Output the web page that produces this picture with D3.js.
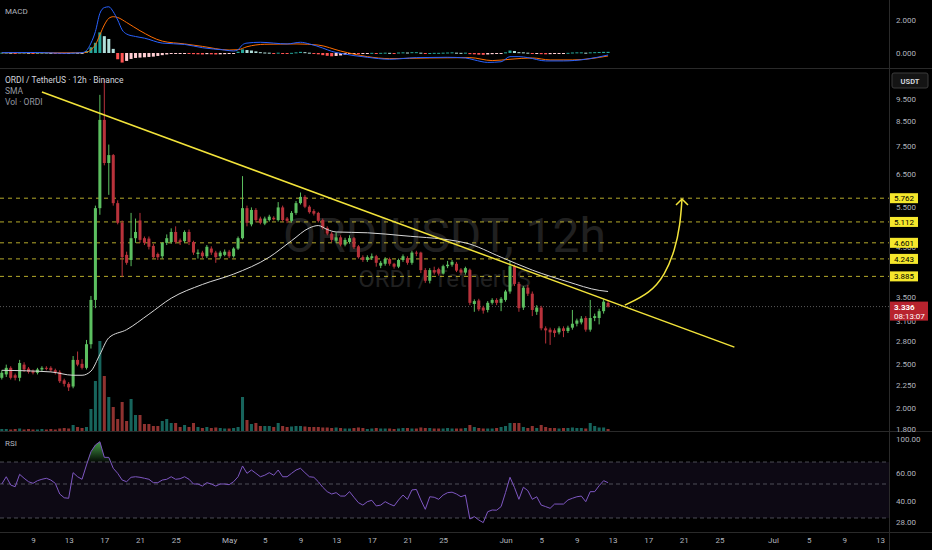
<!DOCTYPE html>
<html>
<head>
<meta charset="utf-8">
<script src="https://cdn.jsdelivr.net/npm/d3@7"></script>
<style>
  body { margin: 0; background: #000; }
  svg { display: block; font-family: Roboto, "Liberation Sans", sans-serif; }
</style>
</head>
<body>
<script>
// ---- data ----
var startTime = Date.UTC(2025, 3, 5, 12);   // first 12h candle
var ohlc = [ // open, high, low, close
  [2.33,2.42,2.31,2.39],[2.37,2.49,2.34,2.45],[2.45,2.47,2.31,2.33],[2.36,2.38,2.30,2.33],
  [2.33,2.55,2.29,2.51],[2.49,2.52,2.40,2.43],[2.44,2.46,2.38,2.40],[2.41,2.43,2.37,2.39],
  [2.39,2.45,2.37,2.43],[2.43,2.47,2.41,2.45],[2.45,2.47,2.42,2.44],[2.45,2.47,2.40,2.42],
  [2.42,2.44,2.37,2.39],[2.40,2.42,2.27,2.29],[2.30,2.32,2.23,2.26],[2.26,2.28,2.18,2.22],
  [2.23,2.60,2.21,2.55],[2.55,2.66,2.47,2.49],[2.50,2.56,2.43,2.45],[2.45,2.82,2.43,2.76],
  [2.76,3.52,2.70,3.45],[3.45,5.55,3.31,5.48],[5.48,9.70,5.30,8.55],[8.55,10.5,6.80,6.88],
  [6.88,7.55,5.86,7.16],[7.16,7.20,5.55,5.62],[5.62,5.70,5.05,5.09],[5.09,5.15,3.87,4.28],
  [4.33,4.40,4.12,4.16],[4.22,5.35,4.09,4.71],[4.71,5.20,4.60,4.86],[5.15,5.35,4.60,4.67],
  [4.71,4.75,4.55,4.60],[4.70,4.75,4.45,4.51],[4.53,4.58,4.25,4.28],[4.35,4.38,4.22,4.28],
  [4.30,4.62,4.25,4.60],[4.60,4.80,4.55,4.71],[4.62,4.95,4.58,4.86],[4.86,5.00,4.58,4.62],
  [4.66,4.70,4.55,4.62],[4.64,4.90,4.60,4.86],[4.86,4.92,4.55,4.62],[4.62,4.65,4.33,4.38],
  [4.35,4.45,4.25,4.38],[4.38,4.42,4.26,4.30],[4.30,4.55,4.26,4.51],[4.47,4.52,4.33,4.38],
  [4.38,4.42,4.16,4.28],[4.30,4.42,4.25,4.38],[4.33,4.45,4.30,4.40],[4.40,4.44,4.26,4.30],
  [4.30,4.50,4.27,4.47],[4.47,4.75,4.44,4.71],[4.71,6.44,4.68,5.48],[5.48,5.55,5.00,5.09],
  [5.05,5.50,5.00,5.43],[5.43,5.48,5.10,5.16],[5.20,5.25,5.05,5.09],[5.07,5.25,5.03,5.20],
  [5.16,5.30,5.12,5.25],[5.22,5.26,5.15,5.18],[5.16,5.65,5.12,5.50],[5.50,5.55,5.12,5.16],
  [5.20,5.24,5.08,5.14],[5.14,5.40,5.10,5.35],[5.35,5.68,5.30,5.62],[5.62,5.93,5.58,5.80],
  [5.80,5.85,5.48,5.52],[5.52,5.56,5.33,5.37],[5.40,5.45,5.28,5.33],[5.35,5.38,5.10,5.14],
  [5.16,5.20,4.92,4.96],[4.96,5.00,4.78,4.82],[4.82,4.86,4.62,4.67],[4.65,4.85,4.60,4.73],
  [4.73,4.78,4.52,4.56],[4.56,4.72,4.52,4.67],[4.62,4.78,4.58,4.71],[4.71,4.74,4.46,4.50],
  [4.52,4.55,4.25,4.28],[4.28,4.32,4.18,4.22],[4.22,4.32,4.18,4.28],[4.26,4.36,4.22,4.30],
  [4.30,4.33,4.08,4.16],[4.10,4.20,4.05,4.16],[4.14,4.28,4.10,4.24],[4.24,4.27,4.10,4.14],
  [4.14,4.16,4.04,4.08],[4.08,4.25,4.05,4.22],[4.22,4.34,4.18,4.30],[4.26,4.30,4.12,4.16],
  [4.16,4.42,4.12,4.38],[4.38,4.42,4.30,4.36],[4.38,4.40,3.95,4.01],[4.01,4.05,3.76,3.80],
  [3.80,4.05,3.75,4.01],[4.01,4.08,3.92,3.96],[4.03,4.06,3.90,3.94],[3.94,4.12,3.92,4.09],
  [4.09,4.20,4.05,4.12],[4.12,4.22,4.08,4.18],[4.14,4.18,3.97,4.00],[4.02,4.05,3.92,3.96],
  [3.96,4.08,3.92,4.05],[4.01,4.04,3.36,3.40],[3.38,3.46,3.25,3.43],[3.44,3.47,3.26,3.29],
  [3.32,3.35,3.22,3.27],[3.28,3.43,3.24,3.40],[3.40,3.48,3.37,3.45],[3.45,3.48,3.36,3.40],
  [3.40,3.50,3.26,3.47],[3.45,3.63,3.42,3.60],[3.60,4.20,3.56,4.09],[4.09,4.12,3.70,3.74],
  [3.74,3.78,3.25,3.31],[3.32,3.70,3.28,3.67],[3.67,3.72,3.52,3.56],[3.56,3.60,3.18,3.28],
  [3.25,3.36,3.20,3.32],[3.32,3.35,2.96,2.99],[2.99,3.02,2.77,2.96],[2.97,3.00,2.75,2.93],
  [2.96,2.99,2.86,2.92],[2.93,3.02,2.90,2.99],[2.99,3.02,2.86,2.95],[2.95,3.03,2.92,3.00],
  [3.00,3.28,2.97,3.06],[3.06,3.14,3.02,3.11],[3.08,3.18,3.05,3.14],[3.15,3.18,2.94,2.97],
  [2.97,3.45,2.94,3.15],[3.15,3.22,3.10,3.18],[3.15,3.30,3.05,3.26],[3.26,3.46,3.22,3.42],
  [3.40,3.44,3.32,3.336]
];
var volume = [
  2,2,1.5,2,2.5,1.5,2,1.5,1.5,2,1.5,2,1.5,2.5,3,2.5,
  6,4,3,4,22,50,90,55,34,24,12,29,10,32,16,16,
  7,7,5,5,10,12,8,8,4,6,4,8,4,3,4,3,
  3.5,3,2.5,2.5,3,4,34,11,7,8,5,5,5,4,8,5,
  4,4.5,5,5,4.5,4,4,4,3.5,3.5,3,3.5,3,2.5,2.5,3,
  3.5,3,2,2.5,3,2.5,2.5,2.5,2,2.5,3,3,2.5,2.5,3.5,3,
  3,2.5,2.5,2.5,3,2.5,2.5,2.5,3,6,4,3,2.5,2.5,2.5,3,
  4,5,8,8,8,4,3,5,3,6,4,3,3,2.5,3,3,
  3.5,3,3,2.5,8,5,3.5,3.5,2
];
// [candle index, value]
var sma = [[0,2.42],[11,2.40],[16,2.36],[18,2.36],[20,2.41],[22,2.62],[24,2.85],[28,2.97],
  [33,3.21],[38,3.48],[45,3.73],[52,3.93],[60,4.28],[65,4.65],[69,4.96],[71,5.02],[73,4.92],
  [75,4.86],[82,4.84],[90,4.77],[104,4.60],[112,4.28],[119,4.01],[127,3.78],[134,3.62],[136,3.60]];
var macdLine = [[0,0.02],[8,0.03],[14,-0.02],[18,0.02],[19,0.15],[20,0.6],[21,1.3],[22,2.4],
  [23,2.75],[24,2.8],[25,2.5],[26,2.0],[27,1.4],[28,1.15],[30,1.0],[32,0.9],[36,0.6],[41,0.52],
  [45,0.32],[50,0.18],[52,0.12],[53,0.2],[54,0.5],[55,0.6],[58,0.65],[64,0.55],[67,0.65],
  [69,0.55],[72,0.3],[74,0.1],[76,-0.02],[82,-0.26],[87,-0.38],[93,-0.28],[100,-0.26],
  [104,-0.3],[106,-0.42],[109,-0.57],[112,-0.53],[114,-0.22],[116,-0.22],[118,-0.28],
  [122,-0.48],[126,-0.48],[131,-0.38],[136,-0.12]];
var signalLine = [[0,0.01],[18,0.01],[19,0.04],[20,0.2],[21,0.5],[22,1.1],[23,1.7],[24,2.1],
  [25,2.2],[26,2.15],[28,1.85],[31,1.35],[36,0.72],[41,0.55],[45,0.4],[51,0.18],[53,0.2],
  [55,0.38],[59,0.53],[66,0.55],[71,0.48],[76,0.12],[82,-0.22],[87,-0.34],[96,-0.3],
  [105,-0.28],[110,-0.46],[114,-0.38],[119,-0.3],[123,-0.42],[128,-0.42],[136,-0.18]];
var macdHist = [
  0.02,0.02,0.01,-0.01,0.02,0.02,0.01,-0.01,0.00,0.01,0.01,0.00,-0.01,-0.03,-0.04,-0.04,0.02,0.01,0.00,
  0.12,0.35,0.62,1.25,1.02,0.85,0.25,
  -0.38,-0.58,-0.48,-0.36,-0.30,-0.28,-0.26,-0.24,-0.22,-0.18,-0.13,-0.09,-0.06,-0.04,-0.04,-0.03,
  -0.04,-0.07,-0.08,-0.09,-0.07,-0.08,-0.09,-0.08,-0.07,-0.06,-0.02,
  0.08,0.22,0.18,0.15,0.10,0.05,0.03,0.02,-0.02,0.02,-0.03,-0.04,0.01,0.04,0.07,0.05,0.02,-0.03,
  -0.08,-0.13,-0.17,-0.2,-0.18,-0.15,-0.10,-0.06,-0.05,-0.07,-0.06,-0.03,0.01,-0.02,0.01,0.02,0.01,
  -0.01,0.03,0.04,0.03,0.05,0.05,0.02,-0.03,0.00,0.01,0.01,0.02,0.03,0.04,0.02,0.01,0.02,
  -0.07,-0.08,-0.10,-0.11,-0.09,-0.07,-0.05,-0.02,0.04,0.15,0.12,0.05,0.04,0.02,
  -0.03,-0.03,-0.07,-0.08,-0.07,-0.06,-0.04,-0.02,0.01,0.03,0.04,0.04,0.02,0.04,0.05,0.06,0.07,0.07
];
var rsi = [
  50,56.6,49.4,48.4,58.8,55.2,52.1,50.6,53,54.3,55.2,53.6,50.6,44.1,41.9,41.6,
  60.3,56.6,54.3,67.3,83.4,92.2,96.5,76.1,76,64.3,59.7,53.6,52.1,56.1,56.6,56.1,
  55.2,54.3,51.2,51.2,53.6,54.3,56.6,54.3,54.8,56.6,54.3,50,50,48.8,51.2,50,
  48.8,50,50,49.6,52.1,56.6,66.4,59.7,62.7,59.7,56.6,58,60.3,58,62.7,56.6,
  56.6,59.7,62.7,64.3,60.3,56.6,56.1,52.1,48.1,45.5,44.1,44.9,42.9,42.9,45.5,42.2,
  39,37.6,39.6,40.4,37.1,37.6,39.6,38.2,37.1,40.6,43.5,41,46.5,46.8,40.6,35.1,
  42.5,42.2,41,43.5,44.9,45.2,44.1,42.5,43.5,29.5,30.8,29,27.7,33.7,34.7,34.6,
  36.7,45,56.1,48,41,48.1,46.1,41,42.5,37.6,36.7,35.7,38.2,38.2,38.2,40.6,
  41.6,42.5,42.9,39.6,45.5,45.5,49,53,51.2
];
var levels = [5.762, 5.112, 4.601, 4.243, 3.885];
var lastPrice = 3.336, countdown = "08:13:07";
var priceTicks = [9.5, 8.5, 7.5, 6.5, 5.5, 4.5, 3.5, 3.1, 2.8, 2.5, 2.25, 2.0, 1.8];
var macdTicks = [2, 0];
var rsiTicks = [100, 60, 40, 28];
var rsiBands = [70, 50, 30];
var timeTicks = ["2025-04-09","2025-04-13","2025-04-17","2025-04-21","2025-04-25","2025-05-01",
  "2025-05-05","2025-05-09","2025-05-13","2025-05-17","2025-05-21","2025-05-25","2025-06-01",
  "2025-06-05","2025-06-09","2025-06-13","2025-06-17","2025-06-21","2025-06-25","2025-07-01",
  "2025-07-05","2025-07-09","2025-07-13"];
var trendLine = [["2025-04-10T00:00Z", 9.84], ["2025-06-26T16:00Z", 2.72]];
var arrowPath = [["2025-06-14T09:00Z", 3.36], ["2025-06-17T05:00Z", 3.57], ["2025-06-18T21:00Z", 3.91],
  ["2025-06-20T00:00Z", 4.44], ["2025-06-20T14:00Z", 5.03], ["2025-06-20T19:00Z", 5.74]];

// ---- layout ----
var W = 932, H = 550, plotR = 889;
var up = "#5cbf60", down = "#b8323b", yellow = "#f2e33a", axisText = "#b2b5be", sep = "#2a2a2a";

var svg = d3.select("body").append("svg").attr("width", W).attr("height", H);
svg.append("rect").attr("width", W).attr("height", H).attr("fill", "#000");

function tOf(i) { return new Date(startTime + i * 12 * 3600 * 1000); }
var x = d3.scaleUtc()
  .domain([new Date(Date.UTC(2025, 3, 9)), new Date(Date.UTC(2025, 6, 13))])
  .range([33, 880]);
var step = x(tOf(1)) - x(tOf(0));
var bw = step * 0.68;

var y = d3.scaleLog().domain([1.8, 9.5]).range([429, 99]);
var yVol = d3.scaleLinear().domain([0, 100]).range([431, 331]);
var yMacd = d3.scaleLinear().domain([0, 2]).range([53, 20]);
var yRsi = d3.scaleLinear().domain([28, 30, 50, 70, 100]).range([522, 518, 484, 462, 439]);

var defs = svg.append("defs");
function clip(id, y0, y1) {
  defs.append("clipPath").attr("id", id).append("rect")
    .attr("x", 0).attr("y", y0).attr("width", plotR).attr("height", y1 - y0);
}
clip("cMacd", 0, 68); clip("cMain", 69, 431); clip("cRsi", 432, 532);

// separators
[68, 431, 532].forEach(function(v) {
  svg.append("line").attr("x1", 0).attr("x2", W).attr("y1", v + 0.5).attr("y2", v + 0.5)
    .attr("stroke", sep);
});
svg.append("line").attr("x1", plotR + 0.5).attr("x2", plotR + 0.5).attr("y1", 0).attr("y2", H)
  .attr("stroke", sep);

// ---- MACD panel ----
var gM = svg.append("g").attr("clip-path", "url(#cMacd)");
gM.selectAll("rect").data(macdHist).enter().append("rect")
  .attr("x", function(d, i) { return x(tOf(i)) - bw / 2; })
  .attr("width", bw)
  .attr("y", function(d) { return Math.min(yMacd(d), yMacd(0)); })
  .attr("height", function(d) { return Math.max(1, Math.abs(yMacd(d) - yMacd(0))); })
  .attr("fill", function(d, i) {
    var p = i ? macdHist[i - 1] : d;
    if (d >= 0) return d >= p ? "#26a69a" : "#b2dfdb";
    return d < p ? "#ff5252" : "#ffcdd2";
  });
var ptLine = function(sc) {
  return d3.line().curve(d3.curveMonotoneX)
    .x(function(d) { return x(tOf(d[0])); })
    .y(function(d) { return sc(d[1]); });
};
gM.append("path").attr("d", ptLine(yMacd)(signalLine)).attr("fill", "none")
  .attr("stroke", "#ff6d00").attr("stroke-width", 1);
gM.append("path").attr("d", ptLine(yMacd)(macdLine)).attr("fill", "none")
  .attr("stroke", "#2962ff").attr("stroke-width", 1);
svg.append("text").attr("x", 5).attr("y", 14).attr("fill", axisText).attr("font-size", 8).text("MACD");
svg.append("g").attr("transform", "translate(" + plotR + ",0)")
  .call(d3.axisRight(yMacd).tickValues(macdTicks).tickSize(0).tickPadding(7).tickFormat(d3.format(".3f")));

// ---- main panel ----
var gP = svg.append("g").attr("clip-path", "url(#cMain)");
// watermark
gP.append("text").attr("x", plotR / 2).attr("y", 252).attr("text-anchor", "middle")
  .attr("font-size", 48).attr("fill", "#202020").text("ORDIUSDT, 12h");
gP.append("text").attr("x", plotR / 2).attr("y", 287).attr("text-anchor", "middle")
  .attr("font-size", 24).attr("fill", "#202020").text("ORDI / TetherUS");

// horizontal levels
gP.selectAll(".lvl").data(levels).enter().append("line")
  .attr("x1", 0).attr("x2", plotR)
  .attr("y1", function(d) { return y(d); }).attr("y2", function(d) { return y(d); })
  .attr("stroke", yellow).attr("stroke-opacity", 0.75).attr("stroke-dasharray", "4,4");
gP.append("line").attr("x1", 0).attr("x2", plotR).attr("y1", y(lastPrice)).attr("y2", y(lastPrice))
  .attr("stroke", "#5a5a5a").attr("stroke-dasharray", "1,2");

// volume
gP.selectAll(".vol").data(volume).enter().append("rect")
  .attr("x", function(d, i) { return x(tOf(i)) - bw / 2; })
  .attr("width", bw)
  .attr("y", function(d) { return yVol(d); })
  .attr("height", function(d) { return yVol(0) - yVol(d); })
  .attr("fill", function(d, i) { return ohlc[i][3] >= ohlc[i][0] ? "#26a69a" : "#ef5350"; })
  .attr("fill-opacity", 0.6);

// candles
var cg = gP.selectAll(".c").data(ohlc).enter().append("g");
cg.append("line")
  .attr("x1", function(d, i) { return x(tOf(i)); }).attr("x2", function(d, i) { return x(tOf(i)); })
  .attr("y1", function(d) { return y(d[1]); }).attr("y2", function(d) { return y(d[2]); })
  .attr("stroke", function(d) { return d[3] >= d[0] ? up : down; });
cg.append("rect")
  .attr("x", function(d, i) { return x(tOf(i)) - bw / 2; })
  .attr("width", bw)
  .attr("y", function(d) { return y(Math.max(d[0], d[3])); })
  .attr("height", function(d) { return Math.max(1, Math.abs(y(d[0]) - y(d[3]))); })
  .attr("fill", function(d) { return d[3] >= d[0] ? up : down; });

// SMA
gP.append("path").attr("d", ptLine(y)(sma)).attr("fill", "none")
  .attr("stroke", "#d8d8d8").attr("stroke-width", 1);

// trend line and arrow
var dl = d3.line().x(function(d) { return x(new Date(d[0])); }).y(function(d) { return y(d[1]); });
gP.append("path").attr("d", dl(trendLine)).attr("stroke", yellow).attr("stroke-width", 1.5).attr("fill", "none");
gP.append("path").attr("d", dl.curve(d3.curveBasis)(arrowPath)).attr("stroke", yellow)
  .attr("stroke-width", 1.5).attr("fill", "none");
var tip = arrowPath[arrowPath.length - 1];
var tx = x(new Date(tip[0])), ty = y(tip[1]);
gP.append("path").attr("d", "M" + (tx - 6) + "," + (ty + 6) + "L" + tx + "," + ty + "L" + (tx + 6) + "," + (ty + 6))
  .attr("stroke", yellow).attr("stroke-width", 1.5).attr("fill", "none");

// header
var hdr = ["ORDI / TetherUS · 12h · Binance", "SMA", "Vol · ORDI"];
svg.selectAll(".hdr").data(hdr).enter().append("text")
  .attr("x", 5).attr("y", function(d, i) { return 83 + i * 11; })
  .attr("font-size", 8.5).attr("fill", function(d, i) { return i ? "#9598a1" : "#d1d4dc"; })
  .text(function(d) { return d; });

// price axis
svg.append("g").attr("transform", "translate(" + plotR + ",0)")
  .call(d3.axisRight(y).tickValues(priceTicks).tickSize(0).tickPadding(7).tickFormat(d3.format(".3f")));
svg.append("rect").attr("x", 892).attr("y", 73).attr("width", 36).attr("height", 15).attr("rx", 2)
  .attr("fill", "#141414").attr("stroke", "#3a3a3a");
svg.append("text").attr("x", 910).attr("y", 83.5).attr("text-anchor", "middle").attr("font-size", 7.5)
  .attr("font-weight", "bold").attr("fill", "#d1d4dc").text("USDT");

var lb = svg.selectAll(".lb").data(levels).enter().append("g");
lb.append("rect").attr("x", 890).attr("width", 28).attr("height", 10)
  .attr("y", function(d) { return y(d) - 5; }).attr("fill", "#f5e72c");
lb.append("text").attr("x", 904).attr("y", function(d) { return y(d) + 3; })
  .attr("text-anchor", "middle").attr("font-size", 8).attr("fill", "#000")
  .text(function(d) { return d3.format(".3f")(d); });

var yl = y(lastPrice);
svg.append("rect").attr("x", 890).attr("y", yl - 5).attr("width", 38).attr("height", 19)
  .attr("fill", "#b8232e");
svg.append("text").attr("x", 894).attr("y", yl + 3).attr("font-size", 8).attr("font-weight", "bold")
  .attr("fill", "#fff").text(d3.format(".3f")(lastPrice));
svg.append("text").attr("x", 894).attr("y", yl + 12).attr("font-size", 8)
  .attr("fill", "#fff").text(countdown);

// ---- RSI panel ----
var gR = svg.append("g").attr("clip-path", "url(#cRsi)");
gR.append("rect").attr("x", 0).attr("width", plotR)
  .attr("y", yRsi(70)).attr("height", yRsi(30) - yRsi(70))
  .attr("fill", "#7e57c2").attr("fill-opacity", 0.1);
gR.selectAll(".band").data(rsiBands).enter().append("line")
  .attr("x1", 0).attr("x2", plotR)
  .attr("y1", function(d) { return yRsi(d); }).attr("y2", function(d) { return yRsi(d); })
  .attr("stroke", "#787b86").attr("stroke-opacity", 0.6).attr("stroke-dasharray", "4,3");
var grad = defs.append("linearGradient").attr("id", "ob").attr("x1", 0).attr("x2", 0)
  .attr("gradientUnits", "userSpaceOnUse")
  .attr("y1", yRsi(97)).attr("y2", yRsi(70));
grad.append("stop").attr("offset", 0).attr("stop-color", "#4caf50").attr("stop-opacity", 0.9);
grad.append("stop").attr("offset", 1).attr("stop-color", "#4caf50").attr("stop-opacity", 0.05);
gR.append("path")
  .attr("d", d3.area()
    .x(function(d, i) { return x(tOf(i)); })
    .y0(yRsi(70))
    .y1(function(d) { return yRsi(Math.max(70, d)); })(rsi))
  .attr("fill", "url(#ob)");
gR.append("path")
  .attr("d", d3.line().x(function(d, i) { return x(tOf(i)); }).y(function(d) { return yRsi(d); })(rsi))
  .attr("fill", "none").attr("stroke", "#7e57c2").attr("stroke-width", 1);
svg.append("text").attr("x", 5).attr("y", 446).attr("fill", axisText).attr("font-size", 8).text("RSI");
svg.append("g").attr("transform", "translate(" + plotR + ",0)")
  .call(d3.axisRight(yRsi).tickValues(rsiTicks).tickSize(0).tickPadding(7).tickFormat(d3.format(".2f")));

// ---- time axis ----
svg.append("g").attr("transform", "translate(0,535)")
  .call(d3.axisBottom(x)
    .tickValues(timeTicks.map(function(s) { return new Date(s + "T00:00Z"); }))
    .tickSize(0).tickPadding(2)
    .tickFormat(function(d) { return d.getUTCDate() === 1 ? d3.utcFormat("%b")(d) : d.getUTCDate(); }));

svg.selectAll(".domain").remove();
svg.selectAll(".tick text").attr("fill", axisText).attr("font-size", 8)
  .attr("font-family", "Roboto, 'Liberation Sans', sans-serif");
</script>
</body>
</html>
